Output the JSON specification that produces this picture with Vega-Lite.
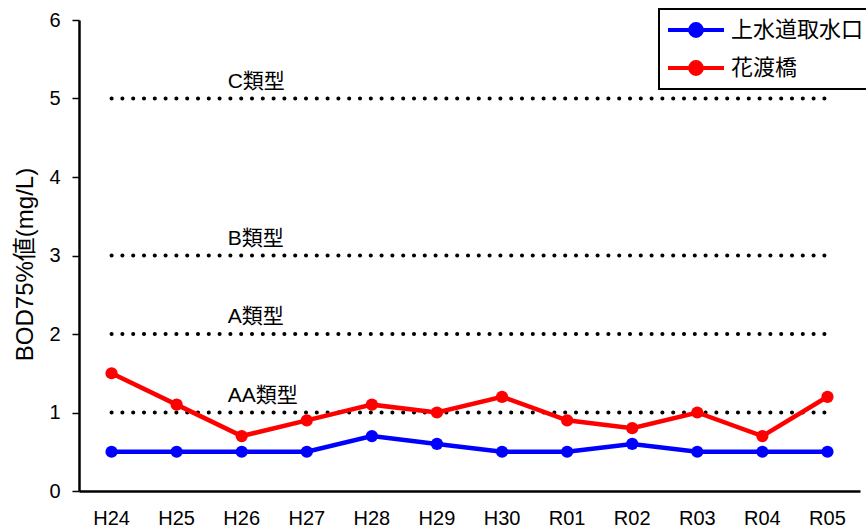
{
  "$schema": "https://vega.github.io/schema/vega-lite/v6.json",
  "width": 781,
  "height": 471,
  "autosize": "none",
  "padding": {"left": 79, "top": 20, "right": 6, "bottom": 40},
  "background": "white",
  "config": {
    "view": {"stroke": null},
    "font": "Liberation Sans"
  },
  "datasets": {
    "series": [
      {"year": "H24", "site": "上水道取水口", "value": 0.5},
      {"year": "H25", "site": "上水道取水口", "value": 0.5},
      {"year": "H26", "site": "上水道取水口", "value": 0.5},
      {"year": "H27", "site": "上水道取水口", "value": 0.5},
      {"year": "H28", "site": "上水道取水口", "value": 0.7},
      {"year": "H29", "site": "上水道取水口", "value": 0.6},
      {"year": "H30", "site": "上水道取水口", "value": 0.5},
      {"year": "R01", "site": "上水道取水口", "value": 0.5},
      {"year": "R02", "site": "上水道取水口", "value": 0.6},
      {"year": "R03", "site": "上水道取水口", "value": 0.5},
      {"year": "R04", "site": "上水道取水口", "value": 0.5},
      {"year": "R05", "site": "上水道取水口", "value": 0.5},
      {"year": "H24", "site": "花渡橋", "value": 1.5},
      {"year": "H25", "site": "花渡橋", "value": 1.1},
      {"year": "H26", "site": "花渡橋", "value": 0.7},
      {"year": "H27", "site": "花渡橋", "value": 0.9},
      {"year": "H28", "site": "花渡橋", "value": 1.1},
      {"year": "H29", "site": "花渡橋", "value": 1.0},
      {"year": "H30", "site": "花渡橋", "value": 1.2},
      {"year": "R01", "site": "花渡橋", "value": 0.9},
      {"year": "R02", "site": "花渡橋", "value": 0.8},
      {"year": "R03", "site": "花渡橋", "value": 1.0},
      {"year": "R04", "site": "花渡橋", "value": 0.7},
      {"year": "R05", "site": "花渡橋", "value": 1.2}
    ],
    "standards": [
      {"label": "AA類型", "value": 1},
      {"label": "A類型", "value": 2},
      {"label": "B類型", "value": 3},
      {"label": "C類型", "value": 5}
    ]
  },
  "encoding": {
    "x": {
      "field": "year", "type": "ordinal",
      "sort": ["H24","H25","H26","H27","H28","H29","H30","R01","R02","R03","R04","R05"],
      "scale": {"domain": ["H24","H25","H26","H27","H28","H29","H30","R01","R02","R03","R04","R05"]},
      "axis": {
        "title": null, "labelAngle": 0, "ticks": false,
        "labelFontSize": 20, "labelColor": "black", "labelPadding": 17,
        "domainColor": "black", "domainWidth": 2.5,
        "labelFont": "Liberation Sans"
      }
    },
    "y": {
      "type": "quantitative",
      "scale": {"domain": [0, 6], "nice": false},
      "axis": {
        "title": "BOD75%値(mg/L)", "titleFont": "Liberation Sans, Noto Sans CJK JP", "titleFontWeight": "normal",
        "titleFontSize": 24, "titleColor": "black", "titlePadding": 11, "titleY": 244,
        "values": [0,1,2,3,4,5,6], "grid": false,
        "labelFontSize": 20, "labelColor": "black", "labelPadding": 12,
        "tickSize": 7, "tickColor": "black", "tickWidth": 1.5,
        "domainColor": "black", "domainWidth": 2.5
      }
    }
  },
  "layer": [
    {
      "data": {"name": "standards"},
      "mark": {"type": "rule", "strokeDash": [0.1, 10.7], "strokeCap": "round", "strokeWidth": 4, "color": "black"},
      "encoding": {
        "x": {"datum": "H24"},
        "x2": {"datum": "R05"},
        "y": {"field": "value"}
      }
    },
    {
      "data": {"name": "standards"},
      "mark": {"type": "text", "align": "left", "baseline": "alphabetic", "dx": -14, "dy": -11, "fontSize": 21, "font": "Liberation Sans, Noto Sans CJK JP", "color": "black"},
      "encoding": {
        "x": {"datum": "H26"},
        "y": {"field": "value"},
        "text": {"field": "label"}
      }
    },
    {
      "data": {"name": "series"},
      "mark": {"type": "line", "strokeWidth": 4.5},
      "encoding": {
        "y": {"field": "value"},
        "color": {
          "field": "site", "type": "nominal",
          "scale": {"domain": ["上水道取水口", "花渡橋"], "range": ["#0000ff", "#ff0000"]},
          "legend": {
            "title": null, "orient": "none", "legendX": 580, "legendY": -11,
            "labelFont": "Noto Sans CJK JP", "labelFontSize": 22, "labelColor": "black",
            "symbolType": "M-1,0L1,0M-0.21,0A0.21,0.21,0,1,0,0.21,0A0.21,0.21,0,1,0,-0.21,0Z",
            "symbolSize": 3136, "symbolStrokeWidth": 4, "clipHeight": 28,
            "strokeColor": "black", "padding": 7, "rowPadding": 10,
            "labelOffset": 5, "fillColor": "white",
            "encode": {
              "symbols": {"update": {"fill": {"scale": "color", "field": "value"}, "fillOpacity": {"value": 1}}},
              "legend": {"update": {"strokeWidth": {"value": 2}}}
            }
          }
        }
      }
    },
    {
      "data": {"name": "series"},
      "mark": {"type": "point", "filled": true, "size": 150, "opacity": 1},
      "encoding": {
        "y": {"field": "value"},
        "color": {"field": "site", "type": "nominal", "legend": null}
      }
    }
  ]
}
